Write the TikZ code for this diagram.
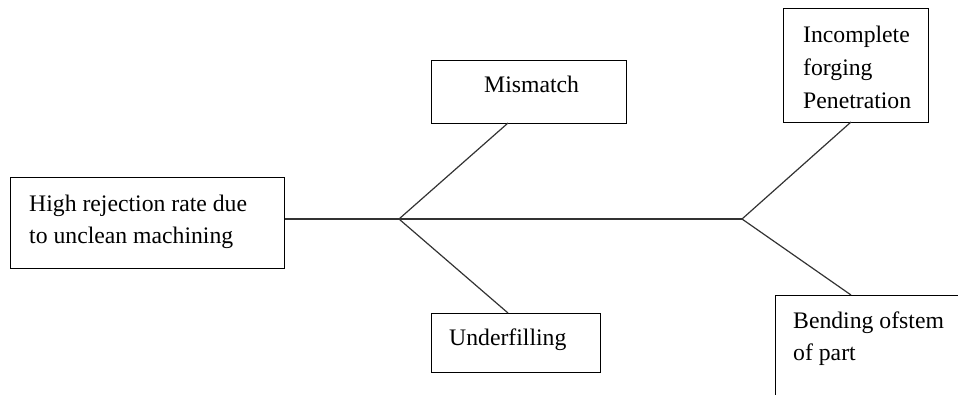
\documentclass[tikz,border=0pt]{standalone}
\usepackage{fontspec}
\setmainfont{Liberation Serif}
\begin{document}
\begin{tikzpicture}[x=1pt,y=-1pt,
  box/.style={draw, line width=1.3pt, inner sep=0pt, anchor=north west},
  lbl/.style={anchor=base west, inner sep=0pt, font=\fontsize{23.7}{32}\selectfont},
  bone/.style={line width=1.2pt, draw=black!80}]
\clip (0,0) rectangle (958,394);
% boxes
\node[box, minimum width=274pt, minimum height=91pt] (root) at (10,177) {};
\node[box, minimum width=195pt, minimum height=63pt] (mis) at (431,60) {};
\node[box, minimum width=169pt, minimum height=59pt] (und) at (431,313) {};
\node[box, minimum width=145pt, minimum height=114pt] (inc) at (783,8) {};
\node[box, minimum width=200pt, minimum height=130pt] (ben) at (775,295) {};
% texts
\node[lbl] (t1) at (29,211) {High rejection rate due};
\node[lbl] (t2) at (29,243) {to unclean machining};
\node[lbl] (t3) at (484,92) {Mismatch};
\node[lbl] (t4) at (449,345) {Underfilling};
\node[lbl] (t5) at (803,42) {Incomplete};
\node[lbl] (t6) at (803,75) {forging};
\node[lbl] (t7) at (803,108) {Penetration};
\node[lbl] (t8) at (793,328) {Bending ofstem};
\node[lbl] (t9) at (793,360) {of part};
% joints
\coordinate (j1) at (399,219);
\coordinate (j2) at (742,219);
\coordinate (m1) at (508,123);
\coordinate (u1) at (508,313);
\coordinate (i1) at (851,122);
\coordinate (b1) at (851,295);
\draw[bone] (root.east |- j1) -- (j1) -- (j2);
\draw[bone] (j1) -- (m1);
\draw[bone] (j1) -- (u1);
\draw[bone] (j2) -- (i1);
\draw[bone] (j2) -- (b1);
\end{tikzpicture}
\end{document}
